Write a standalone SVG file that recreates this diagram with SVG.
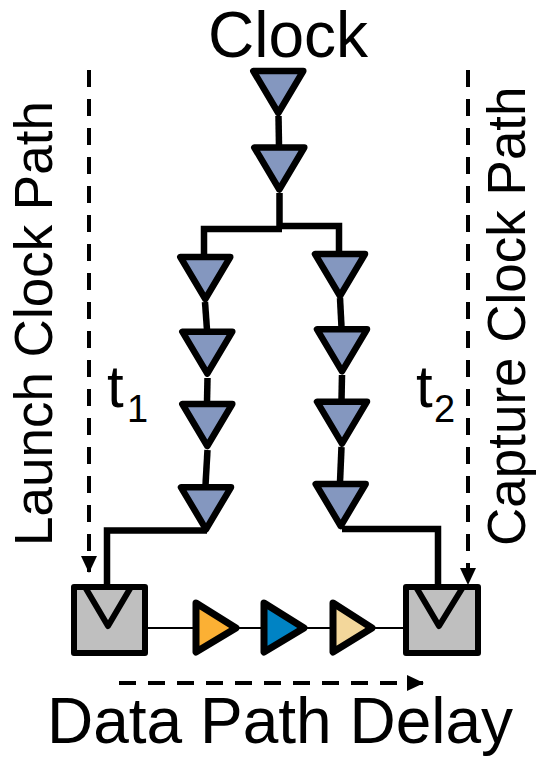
<svg xmlns="http://www.w3.org/2000/svg" width="536" height="761" viewBox="0 0 536 761">
<style>
text{font-family:"Liberation Sans",Arial,sans-serif;fill:#000}
.big{font-size:64px}
.side{font-size:53px}
.tt{font-size:60px}
.sub{font-size:38px}
.b{fill:#8497bf;stroke:#000;stroke-width:6.500;stroke-linejoin:round}
.w{fill:none;stroke:#000;stroke-width:6.500}
.t{fill:none;stroke:#000;stroke-width:2}
.d{fill:none;stroke:#000;stroke-width:4;stroke-dasharray:17 12}
.ff{fill:#bfbfbf;stroke:#000;stroke-width:6;stroke-linejoin:round}
.v{fill:none;stroke:#000;stroke-width:6;stroke-linejoin:round}
.g{stroke:#000;stroke-width:7;stroke-linejoin:round}
</style>
<defs>
<marker id="ah" markerUnits="userSpaceOnUse" markerWidth="17" markerHeight="16" refX="16" refY="8" orient="auto"><path d="M0 0L17 8L0 16Z" fill="#000"/></marker>
</defs>
<g id="connectors">
<path class="w" d="M278.500 116L279 146"/>
<path class="w" d="M279.500 193V228"/>
<path class="w" d="M204 255V229H282"/>
<path class="w" d="M280 226H339V253"/>
<path class="w" d="M205 302L207 330"/>
<path class="w" d="M207.500 378L207 402"/>
<path class="w" d="M207.500 450L205.500 485"/>
<path class="w" d="M340 298L341.500 327"/>
<path class="w" d="M342 375L341.500 400"/>
<path class="w" d="M341.500 447L340 482"/>
<path class="w" d="M207 530.500H107V585"/>
<path class="w" d="M342 529H438V585"/>
<path class="t" d="M148 628H193M238 628H263M305 628H332M375 628H403"/>
<path class="d" d="M89 70V572" marker-end="url(#ah)"/>
<path class="d" d="M468 70V584" marker-end="url(#ah)"/>
<path class="d" d="M119 683H423" marker-end="url(#ah)"/>
</g>
<g id="clock-buf-1"><path class="b" d="M253.300 71H303.300L278.300 113Z"/></g>
<g id="clock-buf-2"><path class="b" d="M254.300 147.500H304.300L279.300 189.500Z"/></g>
<g id="left-buf-1"><path class="b" d="M180.300 257H230.300L205.300 299Z"/></g>
<g id="left-buf-2"><path class="b" d="M182.300 331.700H232.300L207.300 373.700Z"/></g>
<g id="left-buf-3"><path class="b" d="M182.300 404H232.300L207.300 446Z"/></g>
<g id="left-buf-4"><path class="b" d="M181 487.300H231L206 529.300Z"/></g>
<g id="right-buf-1"><path class="b" d="M315 254H365L340 296Z"/></g>
<g id="right-buf-2"><path class="b" d="M317 329.300H367L342 371.300Z"/></g>
<g id="right-buf-3"><path class="b" d="M317 401.700H367L342 443.700Z"/></g>
<g id="right-buf-4"><path class="b" d="M315.700 484H365.700L340.700 526Z"/></g>
<g id="launch-ff"><rect class="ff" x="74" y="587" width="71" height="66"/><path class="v" d="M85 587L108 626L131 587"/></g>
<g id="capture-ff"><rect class="ff" x="406" y="587" width="72" height="66"/><path class="v" d="M416 587L439 626L463 587"/></g>
<g id="data-buf-1"><path class="g" fill="#fbb034" d="M196 603L236 628L196 652Z"/></g>
<g id="data-buf-2"><path class="g" fill="#0083c4" d="M264 603L304 628L264 652Z"/></g>
<g id="data-buf-3"><path class="g" fill="#f3d79b" d="M333 603L372 628L333 652Z"/></g>
<g id="labels">
<text class="big" x="208" y="56.500">Clock</text>
<text class="side" transform="translate(52 546) rotate(-90)">Launch Clock Path</text>
<text class="side" transform="translate(525 546) rotate(-90)">Capture Clock Path</text>
<text class="tt" x="107" y="407">t</text><text class="sub" x="127" y="422">1</text>
<text class="tt" x="416" y="407">t</text><text class="sub" x="434" y="422">2</text>
<text class="big" x="47" y="743">Data Path Delay</text>
</g>
</svg>
